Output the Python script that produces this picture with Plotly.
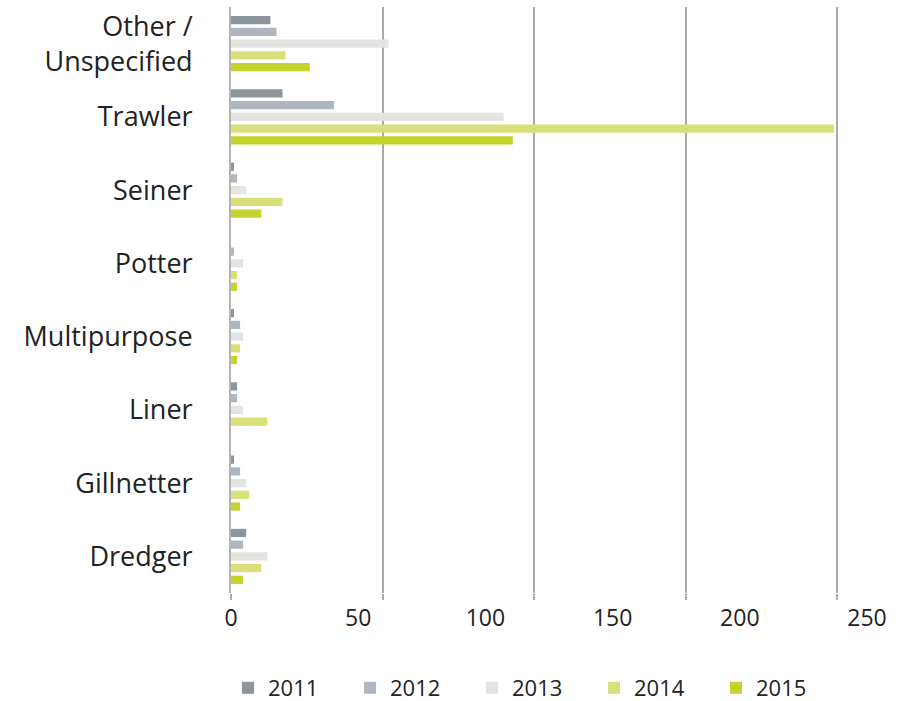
import plotly.graph_objects as go

categories = ["Dredger", "Gillnetter", "Liner", "Multipurpose", "Potter",
              "Seiner", "Trawler", "Other /<br>Unspecified"]
years = ["2011", "2012", "2013", "2014", "2015"]
v2011 = [5, 1, 2, 1, 0, 1, 17, 13]
v2012 = [4, 3, 2, 3, 1, 2, 34, 15]
v2013 = [12, 5, 4, 4, 4, 5, 90, 52]
v2014 = [10, 6, 12, 3, 2, 17, 199, 18]
v2015 = [4, 3, 0, 2, 2, 10, 93, 26]
values = [v2011, v2012, v2013, v2014, v2015]
colors = ["#8a959c", "#aeb7bf", "#e4e4e2", "#d9e07a", "#c4d32d"]
grid_ticks = [0, 50, 100, 150, 200]
label_ticks = [0, 50, 100, 150, 200, 250]

W, H = 913, 701
L, R, T, B = 231, 8, 7, 108
plot_w = W - L - R
plot_h = H - T - B
px_per_unit = 151.5 / 50
label_px_per_unit = 127.2 / 50

FONT = "'Open Sans', Lato, sans-serif"
TXT = "#222222"

fig = go.Figure()
# add in reverse so 2011 sits on top within each group
for yr, vals, col in reversed(list(zip(years, values, colors))):
    fig.add_trace(go.Bar(
        y=categories, x=vals, name=yr, orientation="h",
        marker=dict(color=col, line=dict(width=0)),
    ))

# invisible helper trace for the label axis
fig.add_trace(go.Scatter(x=[None], y=[categories[0]], xaxis="x2", mode="markers",
                         showlegend=False, hoverinfo="skip",
                         marker=dict(opacity=0)))

fig.update_layout(
    width=W, height=H,
    margin=dict(l=L, r=R, t=T, b=B, autoexpand=False),
    paper_bgcolor="white", plot_bgcolor="white",
    barmode="group", bargap=0.2, bargroupgap=0.3,
    font=dict(family=FONT, color=TXT),
    xaxis=dict(
        range=[0, plot_w / px_per_unit], automargin=False,
        tickvals=grid_ticks, showticklabels=False,
        showgrid=True, gridcolor="#aaaaaa", gridwidth=1.5,
        ticks="outside", ticklen=6, tickcolor="#aaaaaa", tickwidth=1.5,
        zeroline=False, showline=False,
    ),
    xaxis2=dict(
        overlaying="x", side="bottom", anchor="y", automargin=False,
        range=[0, plot_w / label_px_per_unit],
        tickvals=label_ticks, ticktext=[str(t) for t in label_ticks],
        showgrid=False, zeroline=False, showline=False, ticks="",
        tickfont=dict(size=23, color=TXT, family=FONT),
        ticklabelstandoff=9,
    ),
    yaxis=dict(
        categoryorder="array", categoryarray=categories, automargin=False,
        showgrid=False, zeroline=False,
        showline=True, linecolor="#b5b5b5", linewidth=2,
        ticks="", tickfont=dict(size=27, color=TXT, family=FONT),
        ticklabelstandoff=31,
    ),
    legend=dict(
        orientation="h", traceorder="reversed",
        x=(228 - L) / plot_w, xanchor="left",
        y=-(688 - (H - B)) / plot_h, yanchor="middle",
        font=dict(size=22, color=TXT, family=FONT),
        entrywidth=77, entrywidthmode="pixels",
        itemsizing="constant",
    ),
    showlegend=True,
)

fig.write_html("out.html", config={"displayModeBar": False},
               post_script="document.body.style.margin='0';document.body.style.overflow='hidden';")
